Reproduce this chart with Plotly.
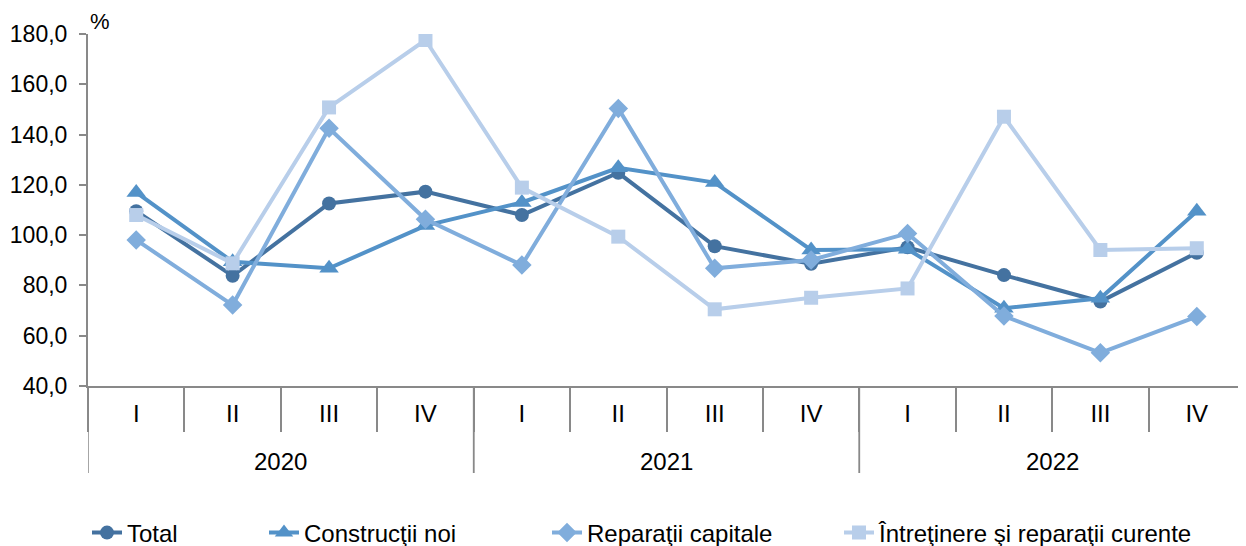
import plotly.graph_objects as go

years = ["2020"] * 4 + ["2021"] * 4 + ["2022"] * 4
quarters = ["I", "II", "III", "IV"] * 3

total = [109.5, 83.8, 112.6, 117.3, 108.0, 124.8, 95.6, 88.6, 95.2, 84.1, 73.6, 93.0]
constructii_noi = [117.0, 89.4, 86.8, 103.8, 113.0, 126.8, 120.9, 94.1, 94.4, 70.9, 74.9, 109.5]
reparatii_capitale = [98.1, 72.2, 142.5, 106.3, 88.1, 150.4, 86.8, 90.1, 100.7, 67.8, 53.2, 67.6]
intretinere = [108.0, 88.8, 150.8, 177.6, 118.9, 99.4, 70.5, 75.1, 78.8, 147.1, 94.1, 94.8]

names = ["Total", "Construcţii noi", "Reparaţii capitale", "Întreţinere şi reparaţii curente"]
series = [total, constructii_noi, reparatii_capitale, intretinere]
colors = ["#4472A0", "#5392C8", "#80ADDC", "#B8CEEA"]
symbols = ["circle", "triangle-up", "diamond", "square"]
msizes = [14, 17, 15, 14]
legend_ids = ["legend", "legend2", "legend3", "legend4"]
legend_text_x = [128, 305, 588, 880]

FONT = "Liberation Sans, Arial, sans-serif"
FS = 24
axis_col = "#898989"

W, H = 1238, 538  # page body adds an 8px offset

idx = list(range(len(quarters)))

fig = go.Figure()
for name, vals, col, sym, ms, lid in zip(names, series, colors, symbols, msizes, legend_ids):
    fig.add_trace(go.Scatter(
        x=idx, y=vals, name=name, mode="lines+markers",
        line=dict(color=col, width=4),
        marker=dict(symbol=sym, size=ms, color=col),
        legend=lid, showlegend=True,
    ))

legend_common = dict(orientation="h", xref="container", yref="container",
                     yanchor="middle", y=13 / H, xanchor="left",
                     font=dict(family=FONT, size=FS, color="#000000"),
                     bgcolor="rgba(0,0,0,0)", borderwidth=0)
for lid, tx in zip(legend_ids, legend_text_x):
    fig.update_layout({lid: dict(x=(tx - 49) / W, **legend_common)})

# year groups: dividers at group boundaries and labels at group centres
shapes = []
annotations = []
unique_years = []
for y in years:
    if y not in unique_years:
        unique_years.append(y)
for yr in unique_years:
    pos = [i for i, y in enumerate(years) if y == yr]
    lo, hi = min(pos) - 0.5, max(pos) + 0.5
    for xb in (lo, hi):
        shapes.append(dict(type="line", xref="x", yref="paper", x0=xb, x1=xb,
                           y0=0, y1=-87 / 352, line=dict(color=axis_col, width=1.5)))
    annotations.append(dict(text=yr, xref="x", yref="paper", x=(lo + hi) / 2, y=0,
                            yshift=-75, yanchor="middle", xanchor="center", showarrow=False,
                            font=dict(family=FONT, size=FS, color="#000000")))

annotations.append(dict(text="%", xref="paper", yref="paper", x=0, y=1, xshift=0,
                        yshift=-2, xanchor="left", yanchor="bottom", showarrow=False,
                        font=dict(family=FONT, size=FS - 2, color="#000000")))

fig.update_layout(
    width=W, height=H,
    margin=dict(l=80, r=1, t=26, b=160),
    paper_bgcolor="white", plot_bgcolor="white",
    separators=",.",
    showlegend=True,
    font=dict(family=FONT, size=FS, color="#000000"),
    xaxis=dict(
        range=[-0.5, len(quarters) - 0.5], tickmode="array", tickvals=idx, ticktext=quarters,
        showgrid=False, zeroline=False, automargin=False,
        showline=True, linecolor=axis_col, linewidth=2,
        ticks="outside", ticklen=0, tickcolor="rgba(0,0,0,0)",
        ticklabelstandoff=5,
        minor=dict(ticks="outside", tick0=0.5, dtick=1, ticklen=44,
                   tickcolor=axis_col, tickwidth=1.5, showgrid=False),
        tickfont=dict(family=FONT, size=FS, color="#000000"),
    ),
    yaxis=dict(
        range=[40, 180], dtick=20, tick0=40, tickformat=".1f",
        showgrid=False, zeroline=False, automargin=False,
        showline=True, linecolor=axis_col, linewidth=2,
        ticks="outside", ticklen=7, tickcolor=axis_col, tickwidth=1.5,
        ticklabelstandoff=7,
        tickfont=dict(family=FONT, size=23, color="#000000"),
    ),
    shapes=shapes,
    annotations=annotations,
)

fig.write_html("out.html")
